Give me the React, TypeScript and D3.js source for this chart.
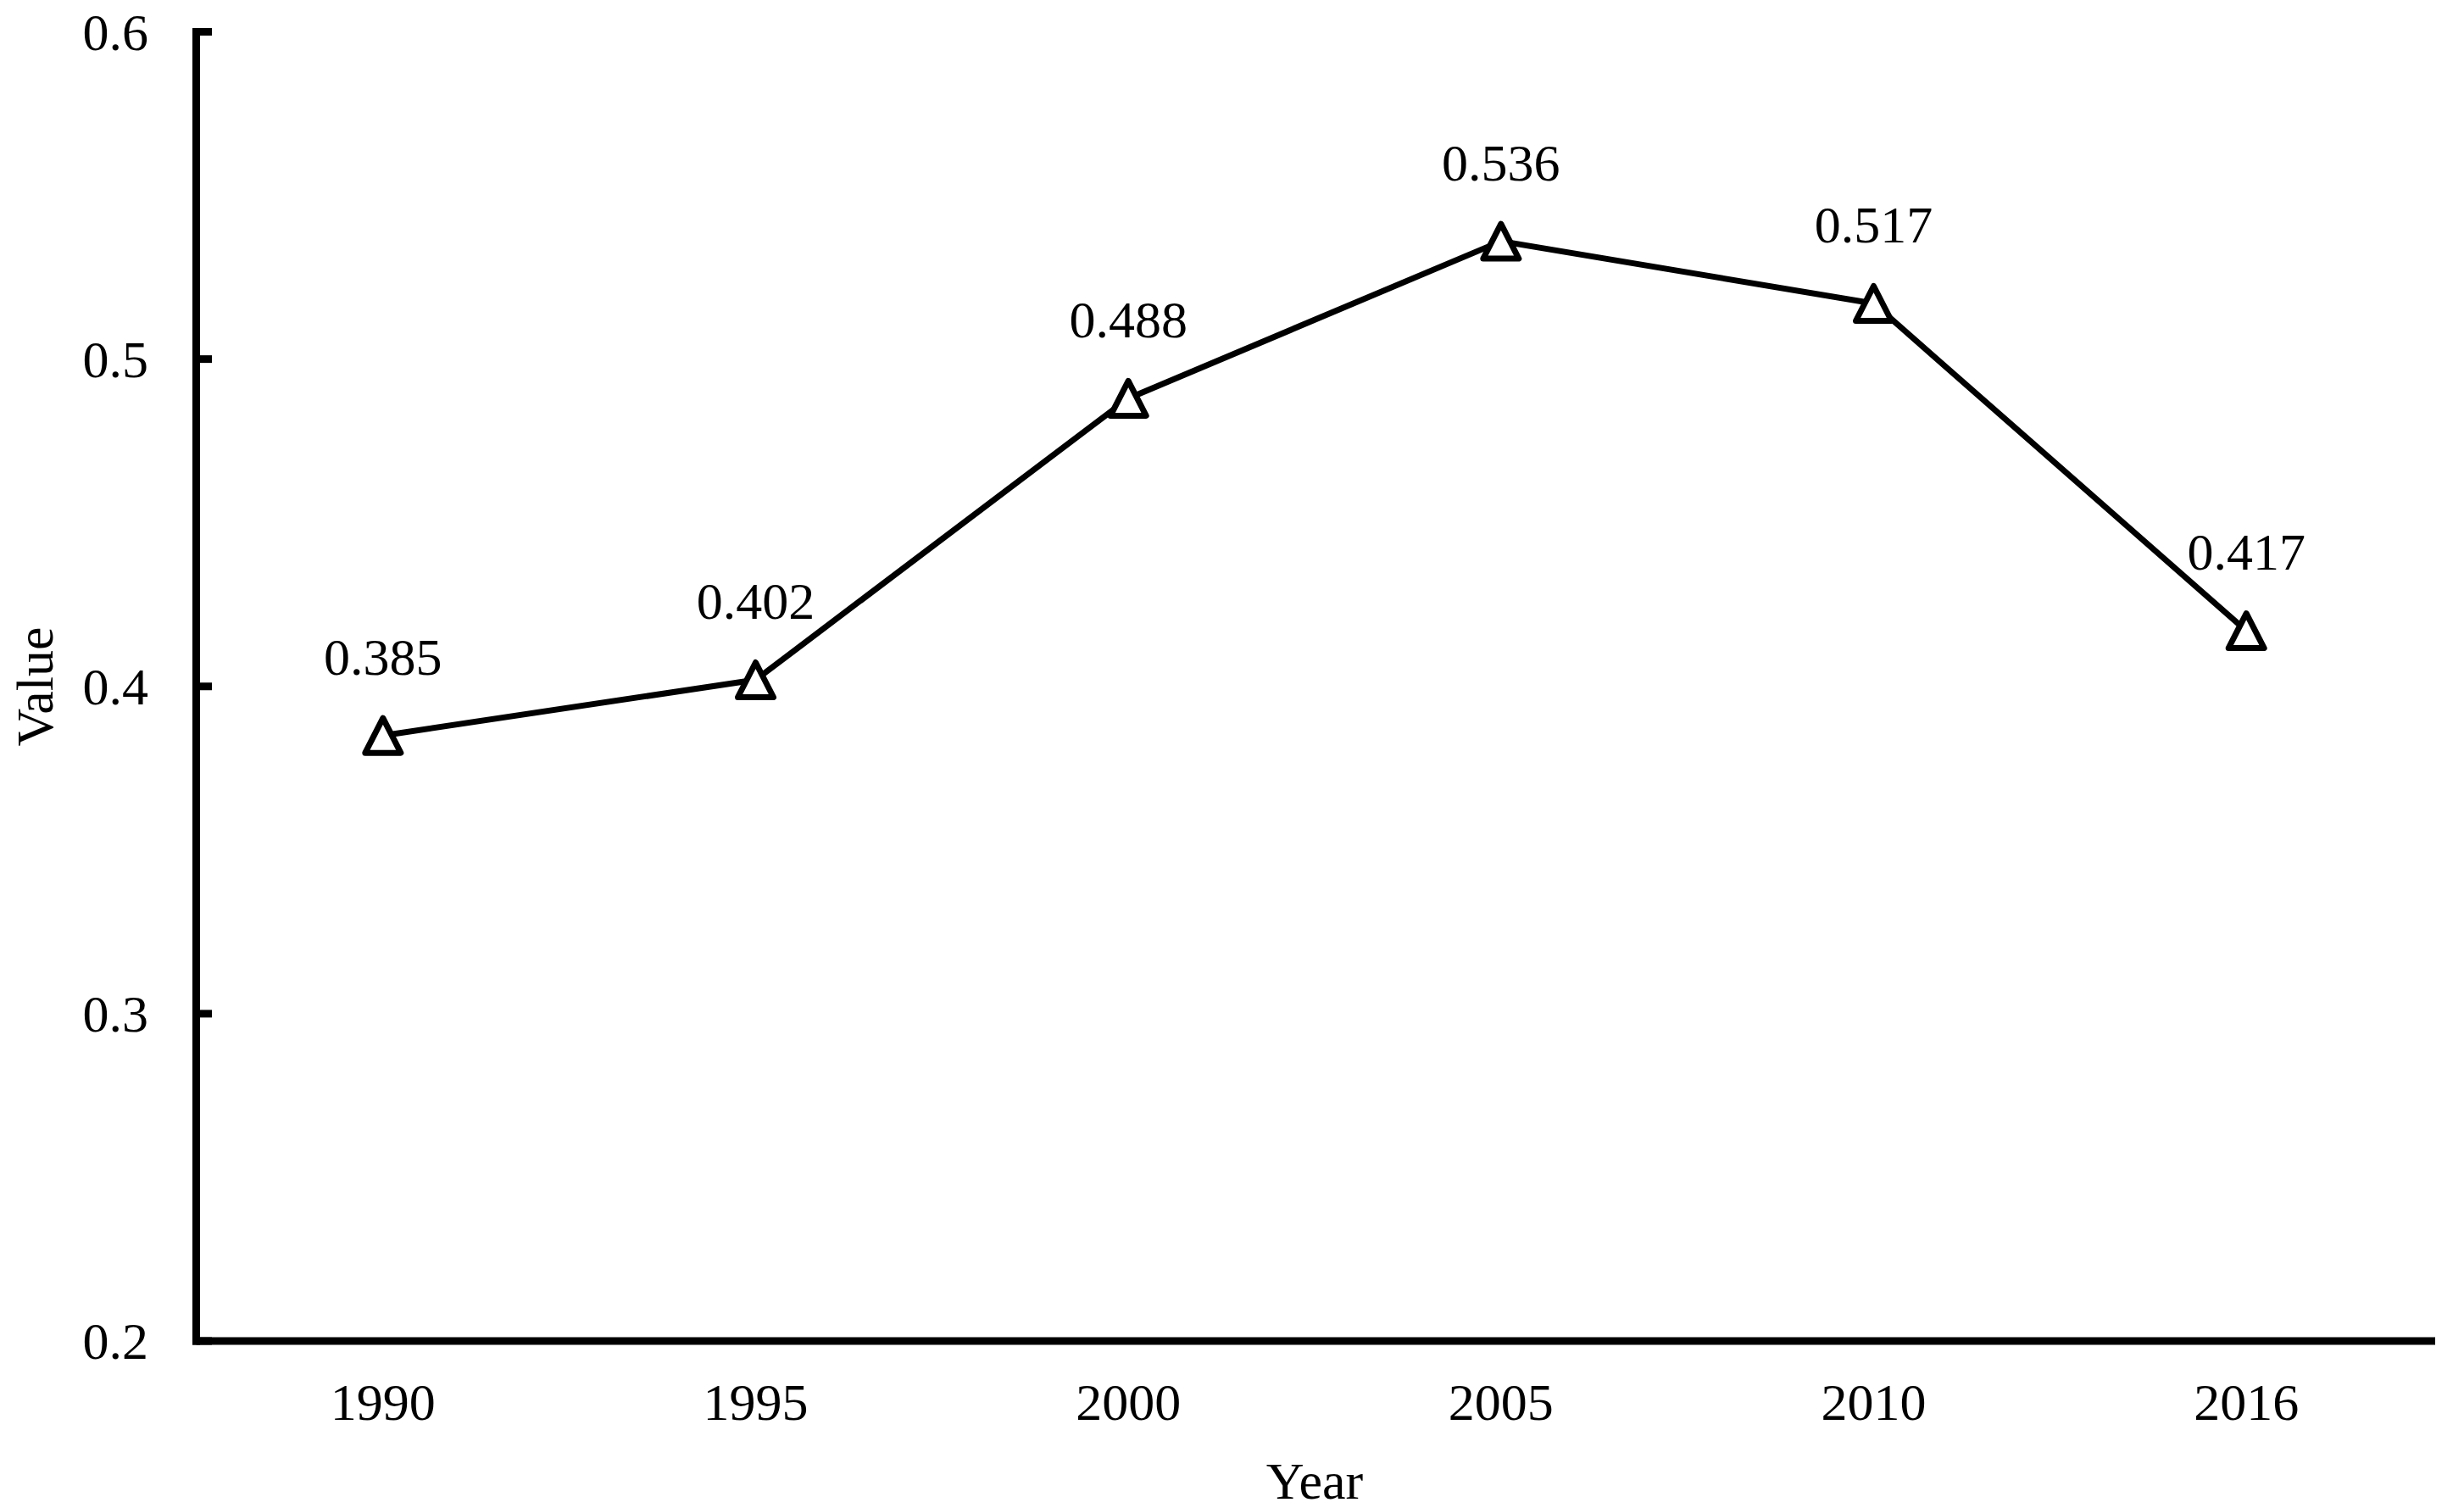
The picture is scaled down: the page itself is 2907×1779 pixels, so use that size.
import React from "react";
import * as d3 from "d3";

const years = ["1990", "1995", "2000", "2005", "2010", "2016"];
const values = [0.385, 0.402, 0.488, 0.536, 0.517, 0.417];
const yTicks = [0.2, 0.3, 0.4, 0.5, 0.6];

const W = 2907;
const H = 1779;
const FONT = "'Liberation Serif', 'Times New Roman', serif";

export default function App() {
  const x = d3.scalePoint<string>().domain(years).range([232, 2870]).padding(0.5);
  const y = d3.scaleLinear().domain([0.2, 0.6]).range([1582, 37.5]);
  const line = d3
    .line<number>()
    .x((_, i) => x(years[i]) as number)
    .y((d) => y(d));
  const tri = "M0,-20.5 L21,20.5 L-21,20.5 Z";

  return (
    <svg
      width={W}
      height={H}
      style={{ position: "absolute", left: 0, top: 0, background: "#fff" }}
      fontFamily={FONT}
    >
      <rect x={0} y={0} width={W} height={H} fill="#fff" />
      {/* y ticks (inward) */}
      {yTicks.map((t) => (
        <g key={t}>
          <line x1={231.5} x2={250} y1={y(t)} y2={y(t)} stroke="#000" strokeWidth={9} />
          <text x={175} y={y(t) + 21} textAnchor="end" fontSize={62} fill="#000">
            {t.toFixed(1)}
          </text>
        </g>
      ))}
      {/* axes */}
      <line x1={231.5} x2={231.5} y1={33} y2={1586.5} stroke="#000" strokeWidth={9} />
      <line x1={227} x2={2873} y1={1582} y2={1582} stroke="#000" strokeWidth={9} />
      {/* x labels */}
      {years.map((yr) => (
        <text key={yr} x={x(yr)} y={1675} textAnchor="middle" fontSize={62} fill="#000">
          {yr}
        </text>
      ))}
      <text x={1551} y={1768} textAnchor="middle" fontSize={62} fill="#000">
        Year
      </text>
      <text
        transform={`translate(62,810) rotate(-90)`}
        textAnchor="middle"
        fontSize={62}
        fill="#000"
      >
        Value
      </text>
      {/* line */}
      <path d={line(values) || ""} fill="none" stroke="#000" strokeWidth={7} strokeLinejoin="round" />
      {/* markers and labels */}
      {values.map((v, i) => (
        <g key={i}>
          <path
            d={tri}
            transform={`translate(${x(years[i])},${y(v)})`}
            fill="#fff"
            stroke="#000"
            strokeWidth={7}
            strokeLinejoin="round"
          />
          <text x={x(years[i])} y={y(v) - 72} textAnchor="middle" fontSize={62} fill="#000">
            {v.toFixed(3)}
          </text>
        </g>
      ))}
    </svg>
  );
}
